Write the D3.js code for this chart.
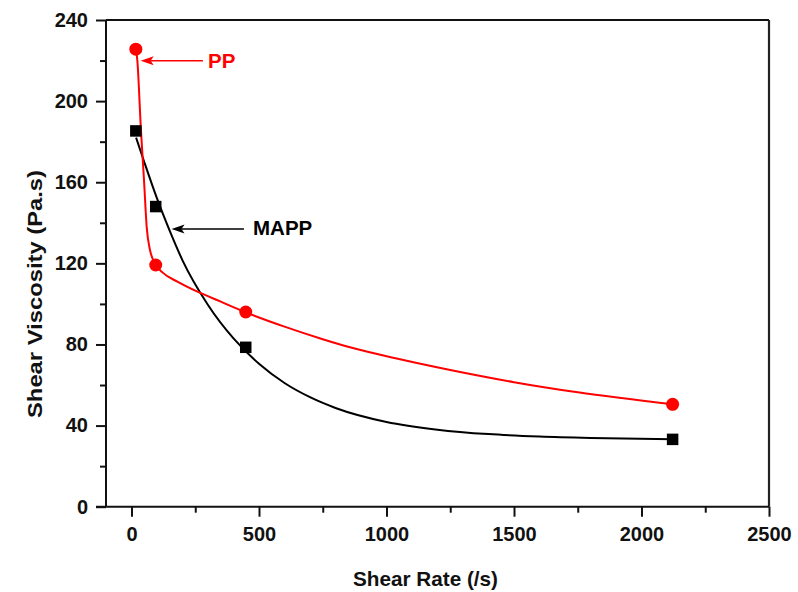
<!DOCTYPE html>
<html>
<head>
<meta charset="utf-8">
<script src="https://cdn.jsdelivr.net/npm/d3@7"></script>
<style>
  html, body { margin: 0; padding: 0; background: #fff; }
  svg { display: block; }
  text { font-family: "Liberation Sans", Arial, sans-serif; font-weight: bold; }
</style>
</head>
<body>
<script>
// ---------------- data ----------------
const shearRate = [17, 95, 448, 2122];
const ppViscosity = [225.6, 119.2, 96, 50.5];
const mappViscosity = [185.3, 148, 78.6, 33.2];

// smooth fitted curves
const ppCurveRate = [17.6, 22.7, 37, 49, 59.6, 72.5, 96, 123.5, 180, 260.8, 350, 445, 600, 750, 857, 1053, 1250, 1500, 1750, 2122];
const ppCurveVisc = [225.6, 220.3, 185.8, 161.1, 137.9, 126.6, 119.2, 115.3, 111, 105.9, 101.1, 96, 88.8, 82.6, 78.6, 72.7, 67.4, 61.4, 56.4, 50.5];
const mappCurveRate = [18, 50, 100, 150, 200, 300, 400, 500, 600, 700, 800, 1000, 1200, 1400, 1600, 1800, 2122];
const mappCurveVisc = [182, 170, 152, 136, 121.5, 99.5, 83, 70.5, 61, 54, 48.7, 41.8, 38, 35.8, 34.6, 33.9, 33.3];

const xMajorTicks = [0, 500, 1000, 1500, 2000, 2500];
const xMinorTicks = [250, 750, 1250, 1750, 2250];
const yMajorTicks = [0, 40, 80, 120, 160, 200, 240];
const yMinorTicks = [20, 60, 100, 140, 180, 220];

const xTitle = "Shear Rate (/s)";
const yTitle = "Shear Viscosity (Pa.s)";
// annotations (data coordinates)
const annotations = [
  { label: "PP",   color: "#ff0000", tipX: 36,  tipY: 219.9, tailX: 280, textX: 300,   textY: 216.3 },
  { label: "MAPP", color: "#000000", tipX: 157, tipY: 136.9, tailX: 441, textX: 476.5, textY: 134 }
];

// ---------------- layout ----------------
const W = 798, H = 592;
const mLeft = 106, mRight = 769, mTop = 20, mBottom = 506.7;
const RED = "#ff0000";

const svg = d3.select("body").append("svg").attr("width", W).attr("height", H);

const x = d3.scaleLinear().domain([-100, 2500]).range([mLeft, mRight]);
const y = d3.scaleLinear().domain([0, 240]).range([mBottom, mTop]);

// frame (top & right)
svg.append("line").attr("x1", mLeft).attr("x2", mRight).attr("y1", mTop).attr("y2", mTop)
  .attr("stroke", "#111").attr("stroke-width", 2);
svg.append("line").attr("x1", mRight).attr("x2", mRight).attr("y1", mTop).attr("y2", mBottom)
  .attr("stroke", "#222").attr("stroke-width", 2.2);

// axes
const fontSize = 20;
const gx = svg.append("g").attr("transform", `translate(0,${mBottom})`);
gx.call(d3.axisBottom(x).tickValues(xMajorTicks).tickSize(10).tickPadding(10).tickFormat(d3.format("d")));
const gxm = svg.append("g").attr("transform", `translate(0,${mBottom})`);
gxm.call(d3.axisBottom(x).tickValues(xMinorTicks).tickSize(6).tickFormat(""));
gxm.select(".domain").remove();

const gy = svg.append("g").attr("transform", `translate(${mLeft},0)`);
gy.call(d3.axisLeft(y).tickValues(yMajorTicks).tickSize(10).tickPadding(8).tickFormat(d3.format("d")));
const gym = svg.append("g").attr("transform", `translate(${mLeft},0)`);
gym.call(d3.axisLeft(y).tickValues(yMinorTicks).tickSize(6).tickFormat(""));
gym.select(".domain").remove();

svg.selectAll(".domain").attr("stroke", "#111").attr("stroke-width", 2);
gx.select(".domain").attr("d", `M${mLeft - 10},0H${mRight}`);
gy.select(".domain").attr("d", `M0,${mBottom}V${mTop}`);
svg.selectAll(".tick line").attr("stroke", "#111").attr("stroke-width", 2);
svg.selectAll(".tick text").attr("font-size", fontSize).attr("fill", "#111")
  .attr("font-family", "'Liberation Sans', Arial, sans-serif").attr("font-weight", "bold");

// axis titles
svg.append("text").text(xTitle)
  .attr("x", 353).attr("y", 586)
  .attr("font-size", 20.5).attr("fill", "#111")
  .attr("textLength", 145).attr("lengthAdjust", "spacingAndGlyphs");
svg.append("text").text(yTitle)
  .attr("transform", `translate(42,418) rotate(-90)`)
  .attr("font-size", 20.5).attr("fill", "#111")
  .attr("textLength", 248).attr("lengthAdjust", "spacingAndGlyphs");

// curves
const line = d3.line().x(d => x(d[0])).y(d => y(d[1])).curve(d3.curveMonotoneX);
svg.append("path").datum(mappCurveRate.map((r, i) => [r, mappCurveVisc[i]]))
  .attr("d", line).attr("fill", "none").attr("stroke", "#000").attr("stroke-width", 2);
svg.append("path").datum(ppCurveRate.map((r, i) => [r, ppCurveVisc[i]]))
  .attr("d", line).attr("fill", "none").attr("stroke", RED).attr("stroke-width", 2);

// markers
const sq = 11.5;
svg.selectAll("rect.mapp").data(shearRate.map((r, i) => [r, mappViscosity[i]])).enter()
  .append("rect").attr("class", "mapp")
  .attr("x", d => x(d[0]) - sq / 2).attr("y", d => y(d[1]) - sq / 2)
  .attr("width", sq).attr("height", sq).attr("fill", "#000");
svg.selectAll("circle.pp").data(shearRate.map((r, i) => [r, ppViscosity[i]])).enter()
  .append("circle").attr("class", "pp")
  .attr("cx", d => x(d[0])).attr("cy", d => y(d[1])).attr("r", 6.5).attr("fill", RED);

// annotations
annotations.forEach(a => {
  const tx = x(a.tipX), ty = y(a.tipY), tl = x(a.tailX);
  svg.append("line").attr("x1", tx + 10).attr("x2", tl).attr("y1", ty).attr("y2", ty)
    .attr("stroke", a.color).attr("stroke-width", 1.5);
  svg.append("path")
    .attr("d", `M${tx},${ty}L${tx + 13},${ty - 4.5}L${tx + 10},${ty}L${tx + 13},${ty + 4.5}Z`)
    .attr("fill", a.color);
  svg.append("text").text(a.label).attr("x", x(a.textX)).attr("y", y(a.textY))
    .attr("font-size", 20.5).attr("fill", a.color);
});
</script>
</body>
</html>
